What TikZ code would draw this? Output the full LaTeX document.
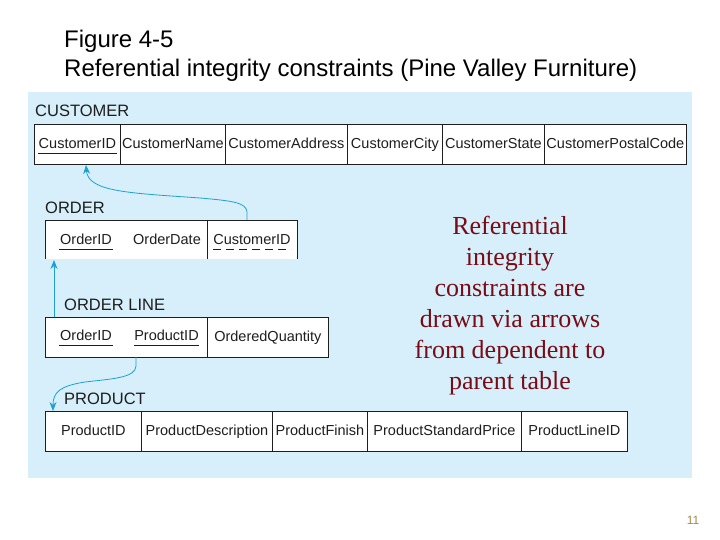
\documentclass[tikz,border=0pt]{standalone}
\usepackage{fontspec}
\setmainfont{Liberation Sans}
\newfontfamily\serifface{Liberation Serif}
\usetikzlibrary{arrows.meta}
\definecolor{bgblue}{RGB}{214,239,250}
\definecolor{fkblue}{RGB}{30,160,210}
\definecolor{notered}{RGB}{120,12,22}
\definecolor{pagegold}{RGB}{166,138,72}
\definecolor{inkgray}{RGB}{30,30,30}
\tikzset{
  cell/.style={draw=inkgray, fill=white, line width=0.8pt, inner sep=0pt, anchor=north west,
    minimum height=40pt, text height=11pt, text depth=2pt,
    font=\fontsize{14.5}{16}\selectfont, text=inkgray},
  attr/.style={inner sep=0pt, font=\fontsize{14.5}{16}\selectfont, text=inkgray, anchor=base},
  tlabel/.style={inner sep=0pt, anchor=west, font=\fontsize{16.5}{18}\selectfont, text=inkgray},
  keyline/.style={draw=inkgray, line width=0.8pt},
  fkline/.style={draw=inkgray, line width=0.8pt, dash pattern=on 8pt off 5pt},
  fk/.style={draw=fkblue, line width=0.8pt, -{Stealth[length=9pt,width=7pt]}},
  titletext/.style={inner sep=0pt, anchor=base west, font=\fontsize{24}{28}\selectfont},
}
\begin{document}
\begin{tikzpicture}[x=1pt,y=-1pt]
\useasboundingbox (0,0) rectangle (720,540);
\fill[white] (0,0) rectangle (720,540);
\fill[bgblue] (28,92) rectangle (692,478);

% title
\node[titletext] (t1) at (64,48) {Figure 4-5};
\node[titletext] (t2) at (64,77) {Referential integrity constraints (Pine Valley Furniture)};

% CUSTOMER
\node[tlabel] (lcust) at (35,111) {CUSTOMER};
\node[cell, minimum width=86pt]  (c1) at (34,124)  {CustomerID};
\node[cell, minimum width=105pt] (c2) at (120,124) {CustomerName};
\node[cell, minimum width=122pt] (c3) at (225,124) {CustomerAddress};
\node[cell, minimum width=95pt]  (c4) at (347,124) {CustomerCity};
\node[cell, minimum width=102pt] (c5) at (442,124) {CustomerState};
\node[cell, minimum width=142pt] (c6) at (544,124) {CustomerPostalCode};
\draw[keyline] (38,153) -- (117,153);

% ORDER
\node[tlabel] (lord) at (45,208) {ORDER};
\fill[white] (45,220) rectangle (297,259);
\draw[draw=inkgray, line width=0.8pt] (45,259) -- (45,220) -- (297,220) -- (297,259);
\draw[draw=inkgray, line width=0.8pt] (207,220) -- (207,259);
\node[attr] (o1) at (86,244) {OrderID};
\node[attr] (o2) at (167,244) {OrderDate};
\node[attr] (o3) at (252,244) {CustomerID};
\draw[keyline] (59,249) -- (113,249);
\draw[fkline] (213,249) -- (291,249);

% ORDER LINE
\node[tlabel] (lol) at (64,305) {ORDER LINE};
\node[cell, minimum width=162pt] (ol1) at (45,317) {};
\node[cell, minimum width=121pt] (ol2) at (207,317) {OrderedQuantity};
\node[attr] (ol1a) at (86,340) {OrderID};
\node[attr] (ol1b) at (166.5,340) {ProductID};
\draw[keyline] (59,345) -- (113,345);
\draw[keyline] (134,345) -- (199,345);

% PRODUCT
\node[tlabel] (lprod) at (64,399) {PRODUCT};
\node[cell, minimum width=96pt]  (p1) at (45,411)  {ProductID};
\node[cell, minimum width=131pt] (p2) at (141,411) {ProductDescription};
\node[cell, minimum width=95pt]  (p3) at (272,411) {ProductFinish};
\node[cell, minimum width=154pt] (p4) at (367,411) {ProductStandardPrice};
\node[cell, minimum width=106pt] (p5) at (521,411) {ProductLineID};

% arrows
\coordinate (a1s) at (247,220);
\coordinate (a1e) at (86,165);
\draw[fk] (a1s) -- (247,212) .. controls (246,203) and (235,201) .. (200,198)
  .. controls (130,193) and (88,192) .. (a1e);
\coordinate (a2s) at (54,317);
\coordinate (a2e) at (54,260);
\draw[fk] (a2s) -- (a2e);
\coordinate (a3s) at (136,357);
\coordinate (a3e) at (53,411);
\draw[fk] (a3s) -- (136,366) .. controls (136,378) and (110,379) .. (85,382)
  .. controls (60,386) and (53,392) .. (a3e);

% note
\node[inner sep=0pt, align=center, text=notered,
  font=\serifface\fontsize{26}{31}\selectfont] (note) at (510,306)
  {Referential\\integrity\\constraints are\\drawn via arrows\\from dependent to\\parent table};

% page number
\node[inner sep=0pt, text=pagegold, font=\fontsize{12}{14}\selectfont] (pg) at (693,520) {11};
\end{tikzpicture}
\end{document}
